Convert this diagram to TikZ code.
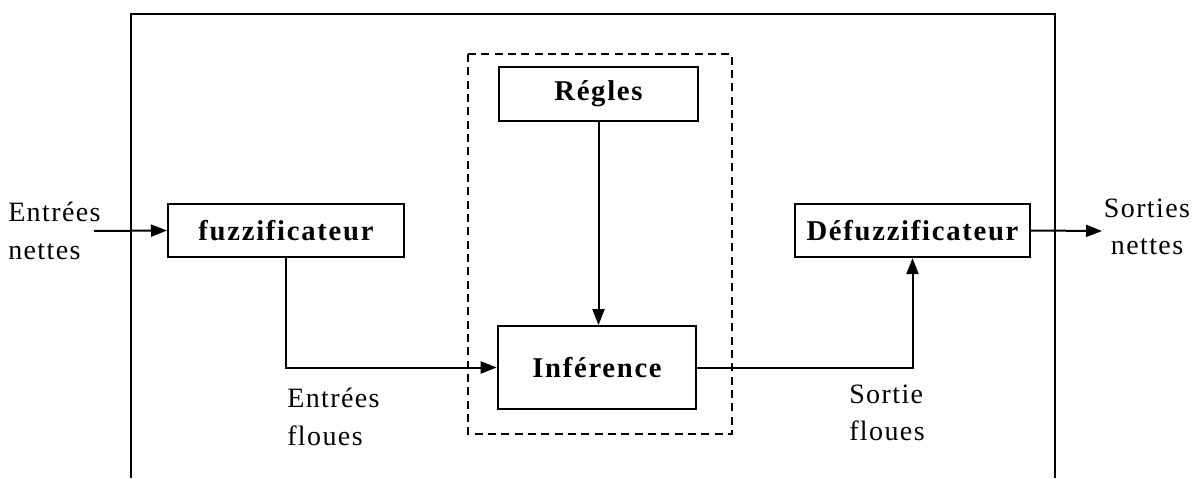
\documentclass[tikz,border=0pt]{standalone}
\usepackage{fontspec}
\setmainfont{Liberation Serif}
\newfontfamily\boxfont[LetterSpace=6]{Liberation Serif}
\newfontfamily\labelfont[LetterSpace=5]{Liberation Serif}
\usetikzlibrary{arrows.meta,positioning}

\tikzset{
  block/.style={draw,line width=1.5pt,minimum height=40pt,inner sep=0pt,
    font=\boxfont\fontsize{21.5}{24}\selectfont\bfseries},
  flow/.style={line width=1.5pt,-{Triangle[length=12pt,width=9pt]}},
  sig/.style={font=\labelfont\fontsize{21}{28}\selectfont,inner sep=0pt}
}

\begin{document}
\begin{tikzpicture}[x=0.75pt,y=-0.75pt]
    \useasboundingbox (0,0) rectangle (1198,478);

    % outer frame (bottom edge cut off)
    \draw[line width=1.3pt] (131,478) -- (131,14) -- (1055,14) -- (1055,478);

    % inference block, dashed
    \draw[line width=1.1pt,dash pattern=on 6pt off 4pt] (468,54) rectangle (732,434);

    \node[block,minimum width=149pt] (regles) at (598.5,94) {Régles};
    \node[block,minimum width=149pt,minimum height=62pt] (infer) at (597,367.5) {Inférence};
    \node[block,minimum width=177pt] (fuzz) at (286,230.5) {fuzzificateur};
    \node[block,minimum width=176pt] (defuzz) at (912.5,230.5) {Défuzzificateur};

    % inputs / outputs
    \coordinate (in) at (94,231);
    \coordinate (out) at (1102,231);
    \node[sig,anchor=west,align=left] (inlab) at (8,231) {Entrées\\nettes};
    \node[sig,align=center] (outlab) at (1147,227) {Sorties\\nettes};
    \node[sig,anchor=west,align=left] (flin) at (287,417) {Entrées\\floues};
    \node[sig,align=left] (flout) at (887,413) {Sortie\\floues};

    \draw[flow] (in) -- (fuzz.west);
    \draw[flow] (defuzz.east) -- (out);
    \draw[flow] (regles.south) -- (regles.south |- infer.north);
    \draw[flow] (fuzz.south) |- (infer.west);
    \draw[flow] (infer.east) -| (defuzz.south);
  \end{tikzpicture}
\end{document}
